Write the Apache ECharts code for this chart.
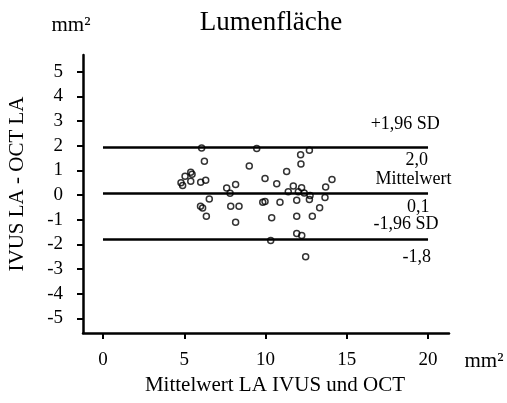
<!DOCTYPE html>
<html>
<head>
<meta charset="utf-8">
<script src="https://cdn.jsdelivr.net/npm/echarts@6/dist/echarts.min.js"></script>
<style>
html,body{margin:0;padding:0;background:#fff;}
#chart{width:507px;height:403px;}
</style>
</head>
<body>
<div id="chart"></div>
<script>
// Mittelwert LA IVUS und OCT (x) / Differenz IVUS LA - OCT LA (y)
var meanX = [6.07,6.24,5.05,5.40,5.48,5.40,4.80,4.90,6.01,6.32,
	6.54,6.00,6.13,6.36,7.61,7.82,8.16,7.86,8.37,8.16,
	9.00,9.46,9.97,9.83,9.97,10.69,10.89,10.38,10.32,11.30,
	11.71,11.40,12.02,12.22,12.16,12.18,12.70,11.92,12.38,12.74,
	12.70,11.92,12.88,13.33,13.66,13.70,14.09,11.92,12.23,12.47];
var diffY = [1.91,1.37,0.76,0.92,0.84,0.56,0.50,0.38,0.52,0.60,
	-0.16,-0.46,-0.53,-0.86,0.28,0.07,0.43,-0.46,-0.46,-1.10,
	1.18,1.88,0.67,-0.29,-0.26,0.46,-0.29,-0.92,-1.84,0.95,
	0.36,0.13,0.13,0.29,1.63,1.26,1.81,-0.21,0.08,-0.02,
	-0.18,-0.86,-0.86,-0.52,-0.10,0.32,0.63,-1.56,-1.64,-2.50];

var xTicks = [0,5,10,15,20];
var yTicks = [-5,-4,-3,-2,-1,0,1,2,3,4,5];

// Grenzen: +1,96 SD, Mittelwert, -1,96 SD
var limitValues = [1.95,0.09,-1.78];
var limitNames = ['+1,96 SD','Mittelwert','-1,96 SD'];
var limitTexts = ['2,0','0,1','-1,8'];
var limitFrom = 0, limitTo = 20;

var FONT = '"Liberation Serif","Times New Roman",serif';

var chart = echarts.init(document.getElementById('chart'));

var points = [];
for (var i = 0; i < meanX.length; i++) points.push([meanX[i], diffY[i]]);

var lines = [];
for (var j = 0; j < limitValues.length; j++) {
	lines.push([{coord:[limitFrom, limitValues[j]]},{coord:[limitTo, limitValues[j]]}]);
}

var option = {
	animation: false,
	grid: {left: 83, right: 58, top: 55, bottom: 70},
	xAxis: {
		type: 'value',
		min: -1.23,
		max: 21.29,
		axisLine: {onZero: false, lineStyle: {color: '#000', width: 2.5}},
		axisTick: {customValues: xTicks, length: 6, lineStyle: {color: '#000', width: 2}},
		axisLabel: {customValues: xTicks, color: '#000', fontSize: 19, fontFamily: FONT, margin: 18},
		splitLine: {show: false}
	},
	yAxis: {
		type: 'value',
		min: -5.594,
		max: 5.675,
		axisLine: {onZero: false, lineStyle: {color: '#000', width: 2.5}},
		axisTick: {customValues: yTicks, length: 6, lineStyle: {color: '#000', width: 2}},
		axisLabel: {customValues: yTicks, color: '#000', fontSize: 19, fontFamily: FONT, margin: 20},
		splitLine: {show: false}
	},
	series: [{
		type: 'scatter',
		data: points,
		symbol: 'circle',
		symbolSize: 6,
		itemStyle: {color: 'rgba(0,0,0,0)', borderColor: '#000', borderWidth: 1.5},
		markLine: {
			silent: true,
			symbol: 'none',
			label: {show: false},
			lineStyle: {color: '#000', width: 2.5, type: 'solid'},
			data: lines
		}
	}]
};
chart.setOption(option);

// Texte
var graphic = [
	{type: 'text', x: 271, y: 23, style: {text: 'Lumenfläche', font: '27px ' + FONT, fill: '#000', align: 'center', verticalAlign: 'middle'}},
	{type: 'text', x: 71, y: 25, style: {text: 'mm²', font: '21px ' + FONT, fill: '#000', align: 'center', verticalAlign: 'middle'}},
	{type: 'text', x: 484, y: 361, style: {text: 'mm²', font: '21px ' + FONT, fill: '#000', align: 'center', verticalAlign: 'middle'}},
	{type: 'text', x: 275, y: 385, style: {text: 'Mittelwert LA IVUS und OCT', font: '21px ' + FONT, fill: '#000', align: 'center', verticalAlign: 'middle'}},
	{type: 'text', x: 17, y: 184, rotation: Math.PI / 2, style: {text: 'IVUS LA - OCT LA', font: '21px ' + FONT, fill: '#000', align: 'center', verticalAlign: 'middle'}}
];

// Beschriftung der Linien (oben Name, unten Wert)
var nameX = [18.6, 19.1, 18.65], nameDy = [-23, -14, -15];
var textX = [19.3, 19.4, 19.3], textDy = [13, 14, 18];
for (var k = 0; k < limitValues.length; k++) {
	var p1 = chart.convertToPixel({gridIndex: 0}, [nameX[k], limitValues[k]]);
	var p2 = chart.convertToPixel({gridIndex: 0}, [textX[k], limitValues[k]]);
	graphic.push({type: 'text', x: p1[0], y: p1[1] + nameDy[k], style: {text: limitNames[k], font: '18px ' + FONT, fill: '#000', align: 'center', verticalAlign: 'middle'}});
	graphic.push({type: 'text', x: p2[0], y: p2[1] + textDy[k], style: {text: limitTexts[k], font: '18px ' + FONT, fill: '#000', align: 'center', verticalAlign: 'middle'}});
}
chart.setOption({graphic: graphic});
</script>
</body>
</html>
